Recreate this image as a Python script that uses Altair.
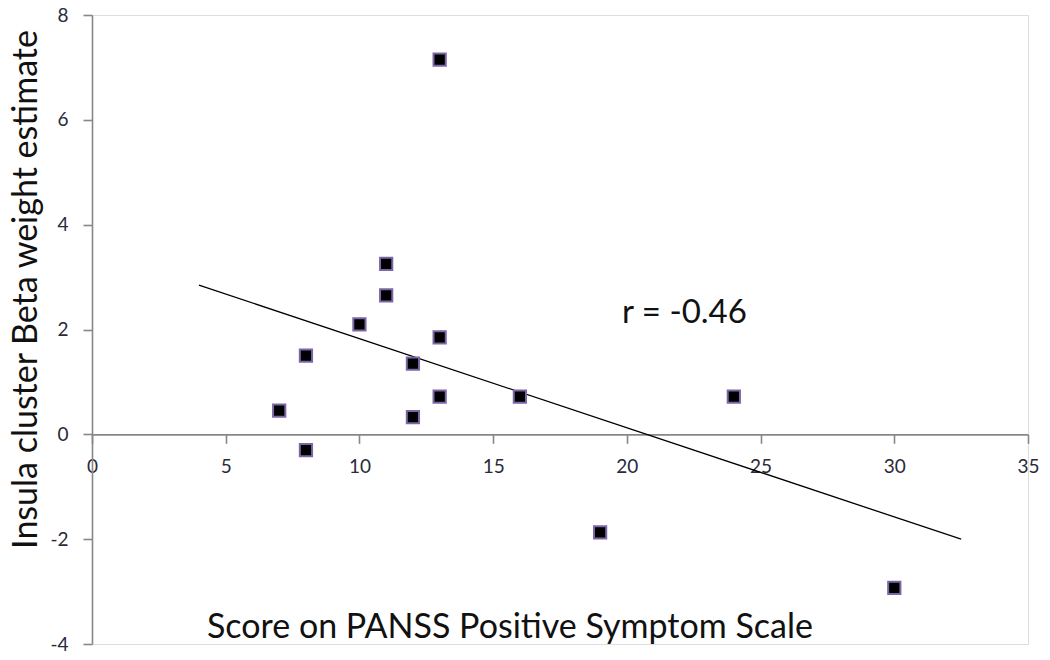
import altair as alt
import pandas as pd

# data
panss = [7, 8, 8, 10, 11, 11, 12, 12, 13, 13, 13, 16, 19, 24, 30]
beta = [0.45, 1.5, -0.3, 2.1, 3.25, 2.65, 1.35, 0.33, 7.15, 1.85, 0.72, 0.72, -1.87, 0.72, -2.93]
x_ticks = [0, 5, 10, 15, 20, 25, 30, 35]
y_ticks = [-4, -2, 0, 2, 4, 6, 8]
fit_extent = [4, 32.5]
r_label = ["r = -0.46"]
r_pos = [19.82, 2.31]
x_title = ["Score on PANSS Positive Symptom Scale"]
x_title_pos = [4.30, -3.70]
y_title = "Insula cluster Beta weight estimate"

df = pd.DataFrame({"x": panss, "y": beta})

W, H = 936, 629
FONT = "Lato"
AX = "#878787"

xs = alt.Scale(domain=[0, 35], nice=False, zero=False)
ys = alt.Scale(domain=[-4, 8], nice=False, zero=False)

x_axis = alt.Axis(values=x_ticks, grid=False, domainColor=AX, tickColor=AX,
                  domainWidth=1.6, tickWidth=1.6, tickSize=9,
                  offset=-H * 4 / 12, labelFont=FONT, labelFontSize=19,
                  labelColor="#2a2a3a", labelPadding=14, title=None,
                  labelFlush=False, labelExpr="'' + datum.value")
y_axis = alt.Axis(values=y_ticks, grid=False, domainColor=AX, tickColor=AX,
                  domainWidth=1.6, tickWidth=1.6, tickSize=9,
                  labelFont=FONT, labelFontSize=19, labelColor="#2a2a3a",
                  labelPadding=15, title=y_title, titleFont=FONT,
                  titleFontSize=34, titleFontWeight="normal", titleColor="#111",
                  titleAngle=-90, titleX=-66, titleY=274, titleAlign="center",
                  titleBaseline="middle", labelFlush=False,
                  labelExpr="'' + datum.value")

base = alt.Chart(df)

pts = base.mark_point(shape="square", filled=True, size=150, color="black",
                      stroke="#7c67a6", strokeWidth=2, opacity=1).encode(
    x=alt.X("x:Q", scale=xs, axis=x_axis),
    y=alt.Y("y:Q", scale=ys, axis=y_axis),
)

fit = base.transform_regression("x", "y", extent=fit_extent).mark_line(
    color="black", strokeWidth=1.3).encode(
    x=alt.X("x:Q", scale=xs),
    y=alt.Y("y:Q", scale=ys),
)

rdf = pd.DataFrame({"t": r_label, "x": [r_pos[0]], "y": [r_pos[1]]})
rtext = alt.Chart(rdf).mark_text(align="left", baseline="middle", font=FONT,
                                 fontSize=33, color="#111").encode(
    x=alt.X("x:Q", scale=xs), y=alt.Y("y:Q", scale=ys), text="t:N")

tdf = pd.DataFrame({"t": x_title, "x": [x_title_pos[0]], "y": [x_title_pos[1]]})
ttext = alt.Chart(tdf).mark_text(align="left", baseline="middle", font=FONT,
                                 fontSize=34, color="#111").encode(
    x=alt.X("x:Q", scale=xs), y=alt.Y("y:Q", scale=ys), text="t:N")

chart = alt.layer(fit, pts, rtext, ttext).properties(
    width=W, height=H,
    padding={"left": 84, "top": 7, "right": 14, "bottom": 8},
    autosize="none",
).configure_view(stroke=None).configure(background="white")

chart.save("out.html", embed_options={"renderer": "svg", "actions": False})
